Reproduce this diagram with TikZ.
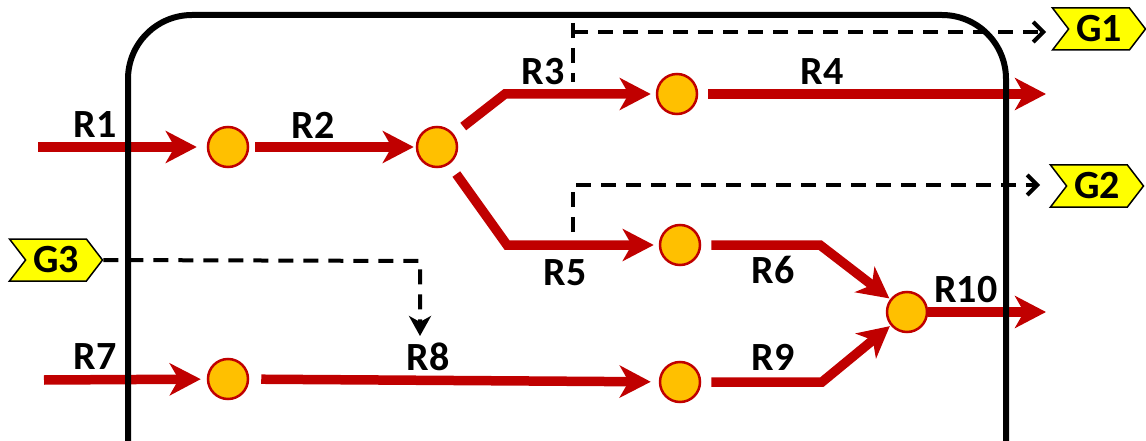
\documentclass[tikz,border=0pt]{standalone}
\usepackage{fontspec}
\setmainfont{Carlito}
\usetikzlibrary{arrows.meta,shapes.symbols}
\definecolor{rred}{HTML}{C00000}
\definecolor{oran}{HTML}{FFC000}
\definecolor{yel}{HTML}{FFFF00}
\begin{document}
\begin{tikzpicture}[x=1pt,y=-1pt,
  dot/.style={circle,fill=oran,draw=rred,line width=2.5pt,minimum size=40pt,inner sep=0pt},
  flow/.style={draw=rred,line width=9.5pt,line join=miter,-{Stealth[length=31pt,width=32pt,inset=9pt]}},
  dsh/.style={line width=4pt,dash pattern=on 15pt off 10pt},
  sig/.style={dsh,-{Straight Barb[length=10pt,width=20pt,line width=4pt]}},
  sigd/.style={dsh,-{Stealth[length=20pt,width=22pt,inset=6pt]}},
  tag/.style={signal,signal from=west,signal to=east,signal pointer angle=105,fill=yel,draw=black,line width=1.5pt,
    minimum width=93pt,minimum height=42pt,inner sep=1pt,font=\fontsize{40}{42}\selectfont\bfseries},
  lbl/.style={font=\fontsize{40}{42}\selectfont\bfseries,inner sep=0pt}]
\useasboundingbox (0,0) rectangle (1146,441);
% nodes
\node[dot] (A) at (228,147) {};
\node[dot] (B) at (437,147) {};
\node[dot] (C) at (677,94) {};
\node[dot] (D) at (680,245) {};
\node[dot] (E) at (907,312) {};
\node[dot] (F) at (228,379) {};
\node[dot] (H) at (680,382) {};
% free ends and bends
\coordinate (s1) at (38,147);
\coordinate (s7) at (44,380);
\coordinate (b3) at (505,94);
\coordinate (b5) at (507,245);
\coordinate (b6) at (820,245);
\coordinate (b9) at (822,382);
\coordinate (e4) at (1046,94);
\coordinate (e10) at (1046,312);
% red flows
\draw[flow,shorten >=10pt] (s1) -- (A);
\draw[flow,shorten <=6pt,shorten >=2pt] (A) -- (B);
\draw[flow,shorten <=12pt,shorten >=5pt] (B) -- (b3) -- (C);
\draw[flow,shorten <=10pt] (C) -- (e4);
\draw[flow,shorten <=12pt,shorten >=5pt] (B) -- (b5) -- (D);
\draw[flow,shorten <=10pt,shorten >=1pt] (D) -- (b6) -- (E);
\draw[flow,shorten >=6pt] (s7) -- (F);
\draw[flow,shorten <=12pt,shorten >=8pt] (F) -- (H);
\draw[flow,shorten <=10pt,shorten >=1pt] (H) -- (b9) -- (E);
\draw[flow] (E) -- (e10);
% box
\draw[line width=6pt,rounded corners=64pt] (128,15) rectangle (1006,530);
% labels
\node[lbl] (l1) at (95,125) {R1};
\node[lbl] (l2) at (313,125) {R2};
\node[lbl] (l3) at (543,72) {R3};
\node[lbl] (l4) at (822,72) {R4};
\node[lbl] (l5) at (565,273) {R5};
\node[lbl] (l6) at (773,270) {R6};
\node[lbl] (l7) at (95,357) {R7};
\node[lbl] (l8) at (428,357) {R8};
\node[lbl] (l9) at (773,357) {R9};
\node[lbl] (l10) at (966,290) {R10};
% tags
\node[tag] (G1) at (1099,29) {G1};
\node[tag] (G2) at (1097,186) {G2};
\node[tag] (G3) at (56,260) {G3};
% signal lines
\coordinate (v1a) at (573,23);
\coordinate (v1b) at (573,82);
\coordinate (k1) at (573,32);
\coordinate (e1) at (1046,32);
\coordinate (v2a) at (573,232);
\coordinate (k2) at (573,185);
\coordinate (e2) at (1040,185);
\coordinate (k3) at (420,261);
\coordinate (t3) at (420,336);
\draw[dsh] (v1a) -- (v1b);
\draw[sig] (k1) -- (e1);
\draw[sig] (v2a) -- (k2) -- (e2);
\draw[sigd] (G3.east) -- (k3) -- (t3);
\end{tikzpicture}
\end{document}
